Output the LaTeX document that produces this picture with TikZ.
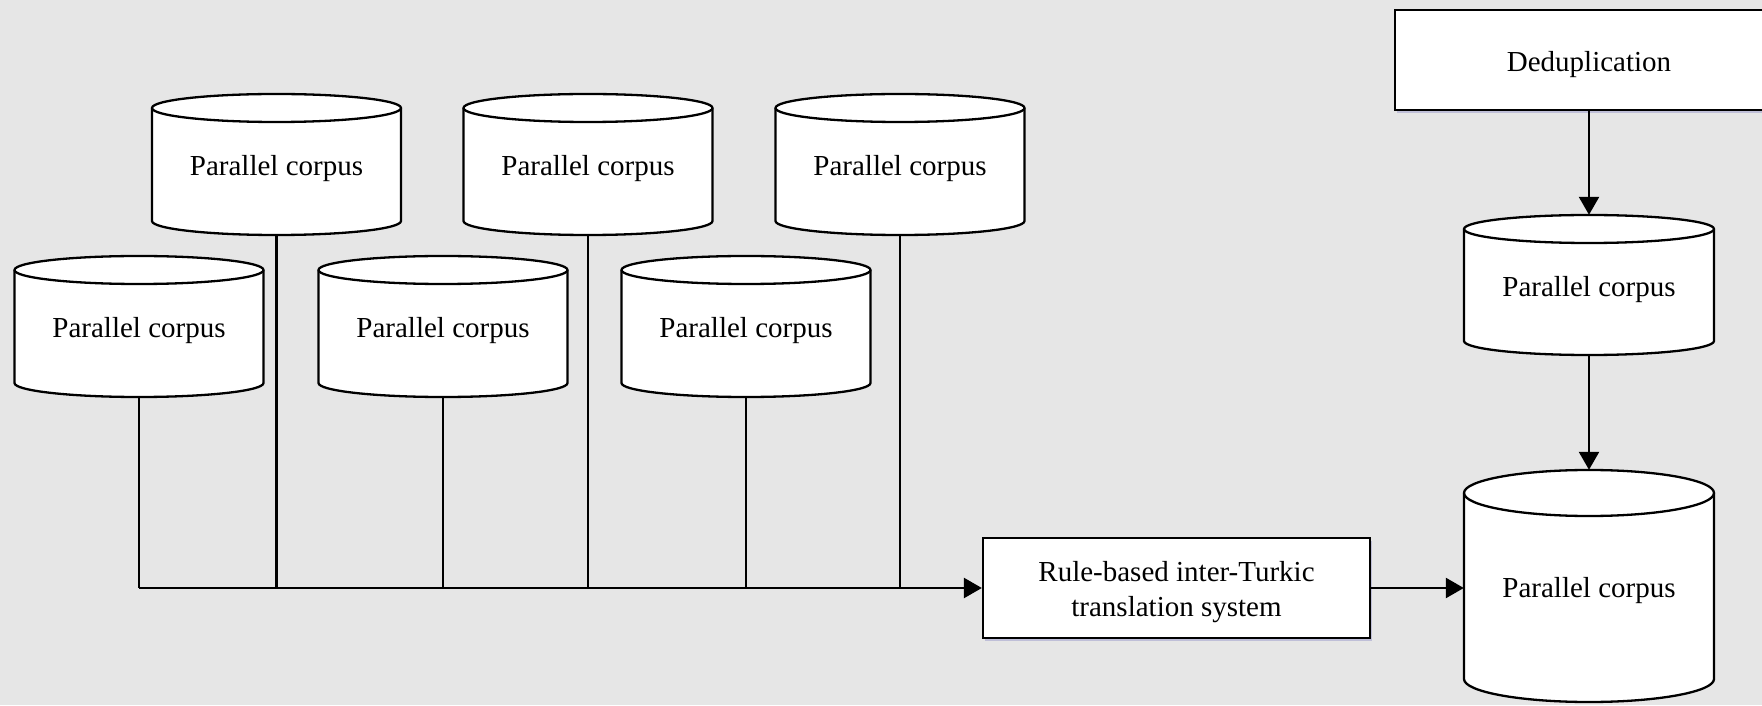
\documentclass[tikz,border=0pt]{standalone}
\usepackage{fontspec}
\setmainfont{Liberation Serif}
\usetikzlibrary{arrows.meta,shadows,calc}
\definecolor{bg}{RGB}{230,230,230}
\tikzset{
  cylline/.style={line width=2.3pt, fill=white, line join=round},
  areanode/.style={inner sep=0pt},
  textonly/.style={inner sep=0pt, font=\fontsize{29}{35}\selectfont, align=center},
  boxnode/.style={draw, line width=2.3pt, fill=white, inner sep=0pt,
    drop shadow={shadow xshift=2pt, shadow yshift=-3pt, opacity=0.25, fill=blue!40!gray}},
  conn/.style={line width=2.5pt},
  arr/.style={line width=2.5pt, -{Triangle[length=18pt,width=20pt]}}
}
\newcommand{\dbcyl}[7]{%
  \draw[cylline] (#2-#5,#3-#6) -- (#2-#5,#4+#6)
    arc[start angle=180,end angle=360,x radius=#5pt,y radius=#6pt]
    -- (#2+#5,#3-#6)
    arc[start angle=0,end angle=180,x radius=#5pt,y radius=#6pt] -- cycle;
  \draw[cylline, fill=none] (#2-#5,#3-#6) arc[start angle=180,end angle=360,x radius=#5pt,y radius=#6pt];
  \node[areanode, minimum width={2*#5}, minimum height={#3-#4}] (#1) at (#2,{(#3+#4)/2}) {};
  \node[textonly, yshift=-4.5pt] (#1-t) at (#1) {#7};
}
\begin{document}
\begin{tikzpicture}[x=1pt,y=1pt]
\fill[bg] (0,0) rectangle (1762,705);
\useasboundingbox (0,0) rectangle (1762,705);
% top row
\dbcyl{c1}{276.5}{611}{470}{124.5}{14}{Parallel corpus}
\dbcyl{c2}{588}{611}{470}{124.5}{14}{Parallel corpus}
\dbcyl{c3}{900}{611}{470}{124.5}{14}{Parallel corpus}
% bottom row
\dbcyl{c4}{139}{449}{308}{124.5}{14}{Parallel corpus}
\dbcyl{c5}{443}{449}{308}{124.5}{14}{Parallel corpus}
\dbcyl{c6}{746}{449}{308}{124.5}{14}{Parallel corpus}
% right column
\dbcyl{cA}{1589}{490}{350}{125}{14}{Parallel corpus}
\dbcyl{big}{1589}{235}{3}{125}{23}{Parallel corpus}
\node[boxnode, minimum width=388, minimum height=100] (dedup) at (1589,645) {};
\node[textonly, yshift=-4.5pt] (dedup-t) at (dedup) {Deduplication};
\node[boxnode, minimum width=387, minimum height=100] (rule) at (1176.5,117) {};
\node[textonly, yshift=-4.5pt] (rule-t) at (rule) {Rule-based inter-Turkic\\translation system};
% bus
\coordinate (busstart) at (c4.south |- rule.west);
\draw[arr] (busstart) -- (rule.west);
\foreach \n in {c4,c1,c5,c2,c6,c3} {
  \draw[conn] (\n.south) -- (\n.south |- rule.west);
}
\draw[arr] (rule.east) -- (rule.east -| big.west);
\draw[arr] (dedup.south) -- (cA.north);
\draw[arr] (cA.south) -- (big.north);
\end{tikzpicture}
\end{document}
